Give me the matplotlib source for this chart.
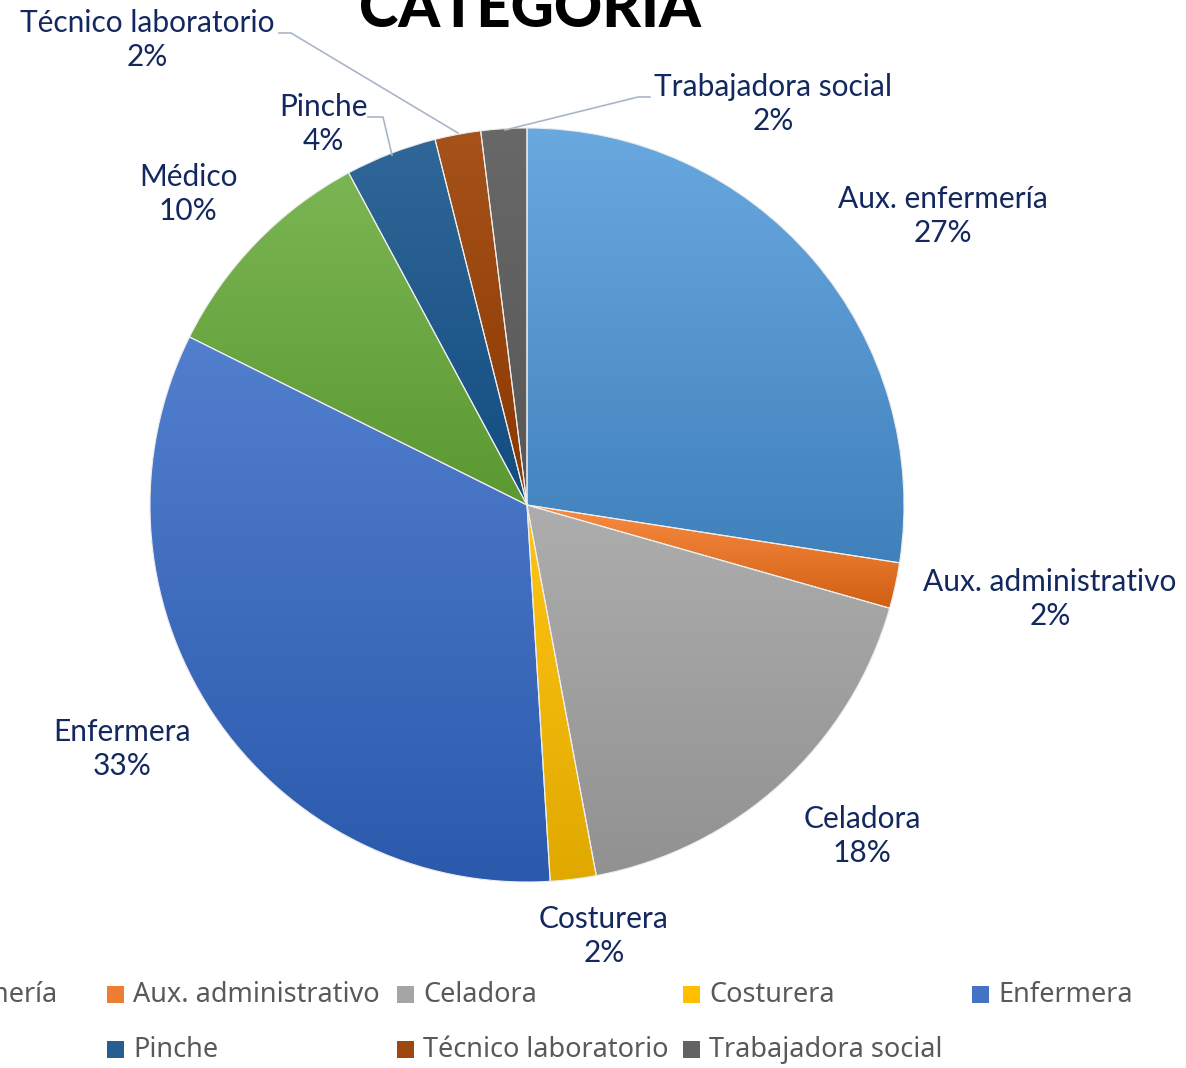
import matplotlib
matplotlib.use("Agg")
import matplotlib.pyplot as plt
import numpy as np
from matplotlib.colors import to_rgb, rgb_to_hsv, hsv_to_rgb
from matplotlib.patches import Rectangle

# data
categorias = ["Aux. enfermería", "Aux. administrativo", "Celadora", "Costurera",
              "Enfermera", "Médico", "Pinche", "Técnico laboratorio", "Trabajadora social"]
cuenta = [14, 1, 9, 1, 17, 5, 2, 1, 1]
colores = ["#5B9BD5", "#ED7D31", "#A5A5A5", "#FFC000", "#4472C4",
           "#70AD47", "#255E91", "#9E480E", "#636363"]

W, H = 1186, 1068
fig = plt.figure(figsize=(W / 100, H / 100), dpi=100)
ax = fig.add_axes([0, 0, 1, 1])

cx, cy, r = 527, H - 505, 377


def shade(c, s, v):
    hsv = rgb_to_hsv(np.array(to_rgb(c)))
    hsv[1] = min(1, hsv[1] * s)
    hsv[2] = min(1, hsv[2] * v)
    return hsv_to_rgb(hsv)


wedges, _ = ax.pie(cuenta, colors=colores, startangle=90, counterclock=False,
                   center=(cx, cy), radius=r, frame=True,
                   wedgeprops=dict(linewidth=0))

# gradient fill per slice (lighter on top, darker at bottom)
for w, c in zip(wedges, colores):
    ext = w.get_path().get_extents()
    top = shade(c, 0.92, 1.05)
    bot = shade(c, 1.15, 0.88)
    tt = np.linspace(0, 1, 256)[:, None]
    img = top[None, :] * (1 - tt) + bot[None, :] * tt
    img = np.repeat(img[:, None, :], 2, axis=1)
    im = ax.imshow(img, extent=(ext.x0, ext.x1, ext.y0, ext.y1), origin="upper",
                   aspect="auto", zorder=2, interpolation="bilinear")
    im.set_clip_path(w)

# thin light separators over the gradient
ax.pie(cuenta, colors=["none"] * len(cuenta), startangle=90, counterclock=False,
       center=(cx, cy), radius=r, frame=True,
       wedgeprops=dict(linewidth=0.8, edgecolor="#eeeeee", zorder=5))
ax.set_xlim(0, W)
ax.set_ylim(0, H)
ax.set_aspect("equal")
ax.axis("off")

total = sum(cuenta)
label_pos = [(943, 216), (1050, 599), (862, 836), (604, 936), (122, 749),
             (188, 194), (323, 124), (147, 40), (773, 104)]
txtc = "#13285E"
for name, n, (x, y) in zip(categorias, cuenta, label_pos):
    ax.text(x, H - y, f"{name}\n{round(100 * n / total)}%", ha="center", va="center",
            fontsize=21.5, color=txtc, family="Lato", linespacing=1.3, zorder=10)

# leader lines
lc = "#A9B6C8"
ax.plot([279, 291, 458], [H - 33, H - 33, H - 133], color=lc, lw=1.2, zorder=6)
ax.plot([368, 383, 392], [H - 117, H - 117, H - 155], color=lc, lw=1.2, zorder=6)
ax.plot([650, 638, 505], [H - 97, H - 97, H - 130], color=lc, lw=1.2, zorder=6)

# title (cut at top like the source)
ax.text(530, H - 27, "CATEGORÍA", ha="center", va="baseline", fontsize=43,
        fontweight="black", family="Lato", color="black", zorder=10)

# legend, uniform columns
col_x = [-173, 107, 397, 683, 972]
row_y = [995, 1050]
for i, (name, c) in enumerate(zip(categorias, colores)):
    row = 0 if i < 5 else 1
    col = i if i < 5 else i - 5
    x = col_x[col]
    y = H - row_y[row]
    ax.add_patch(Rectangle((x, y - 8), 17, 17, facecolor=c, edgecolor="none",
                           clip_on=False, zorder=10))
    ax.text(x + 26, y, name, ha="left", va="center", fontsize=19.5,
            family="Noto Sans", color="#595959", zorder=10)

fig.savefig("out.png", dpi=100)
